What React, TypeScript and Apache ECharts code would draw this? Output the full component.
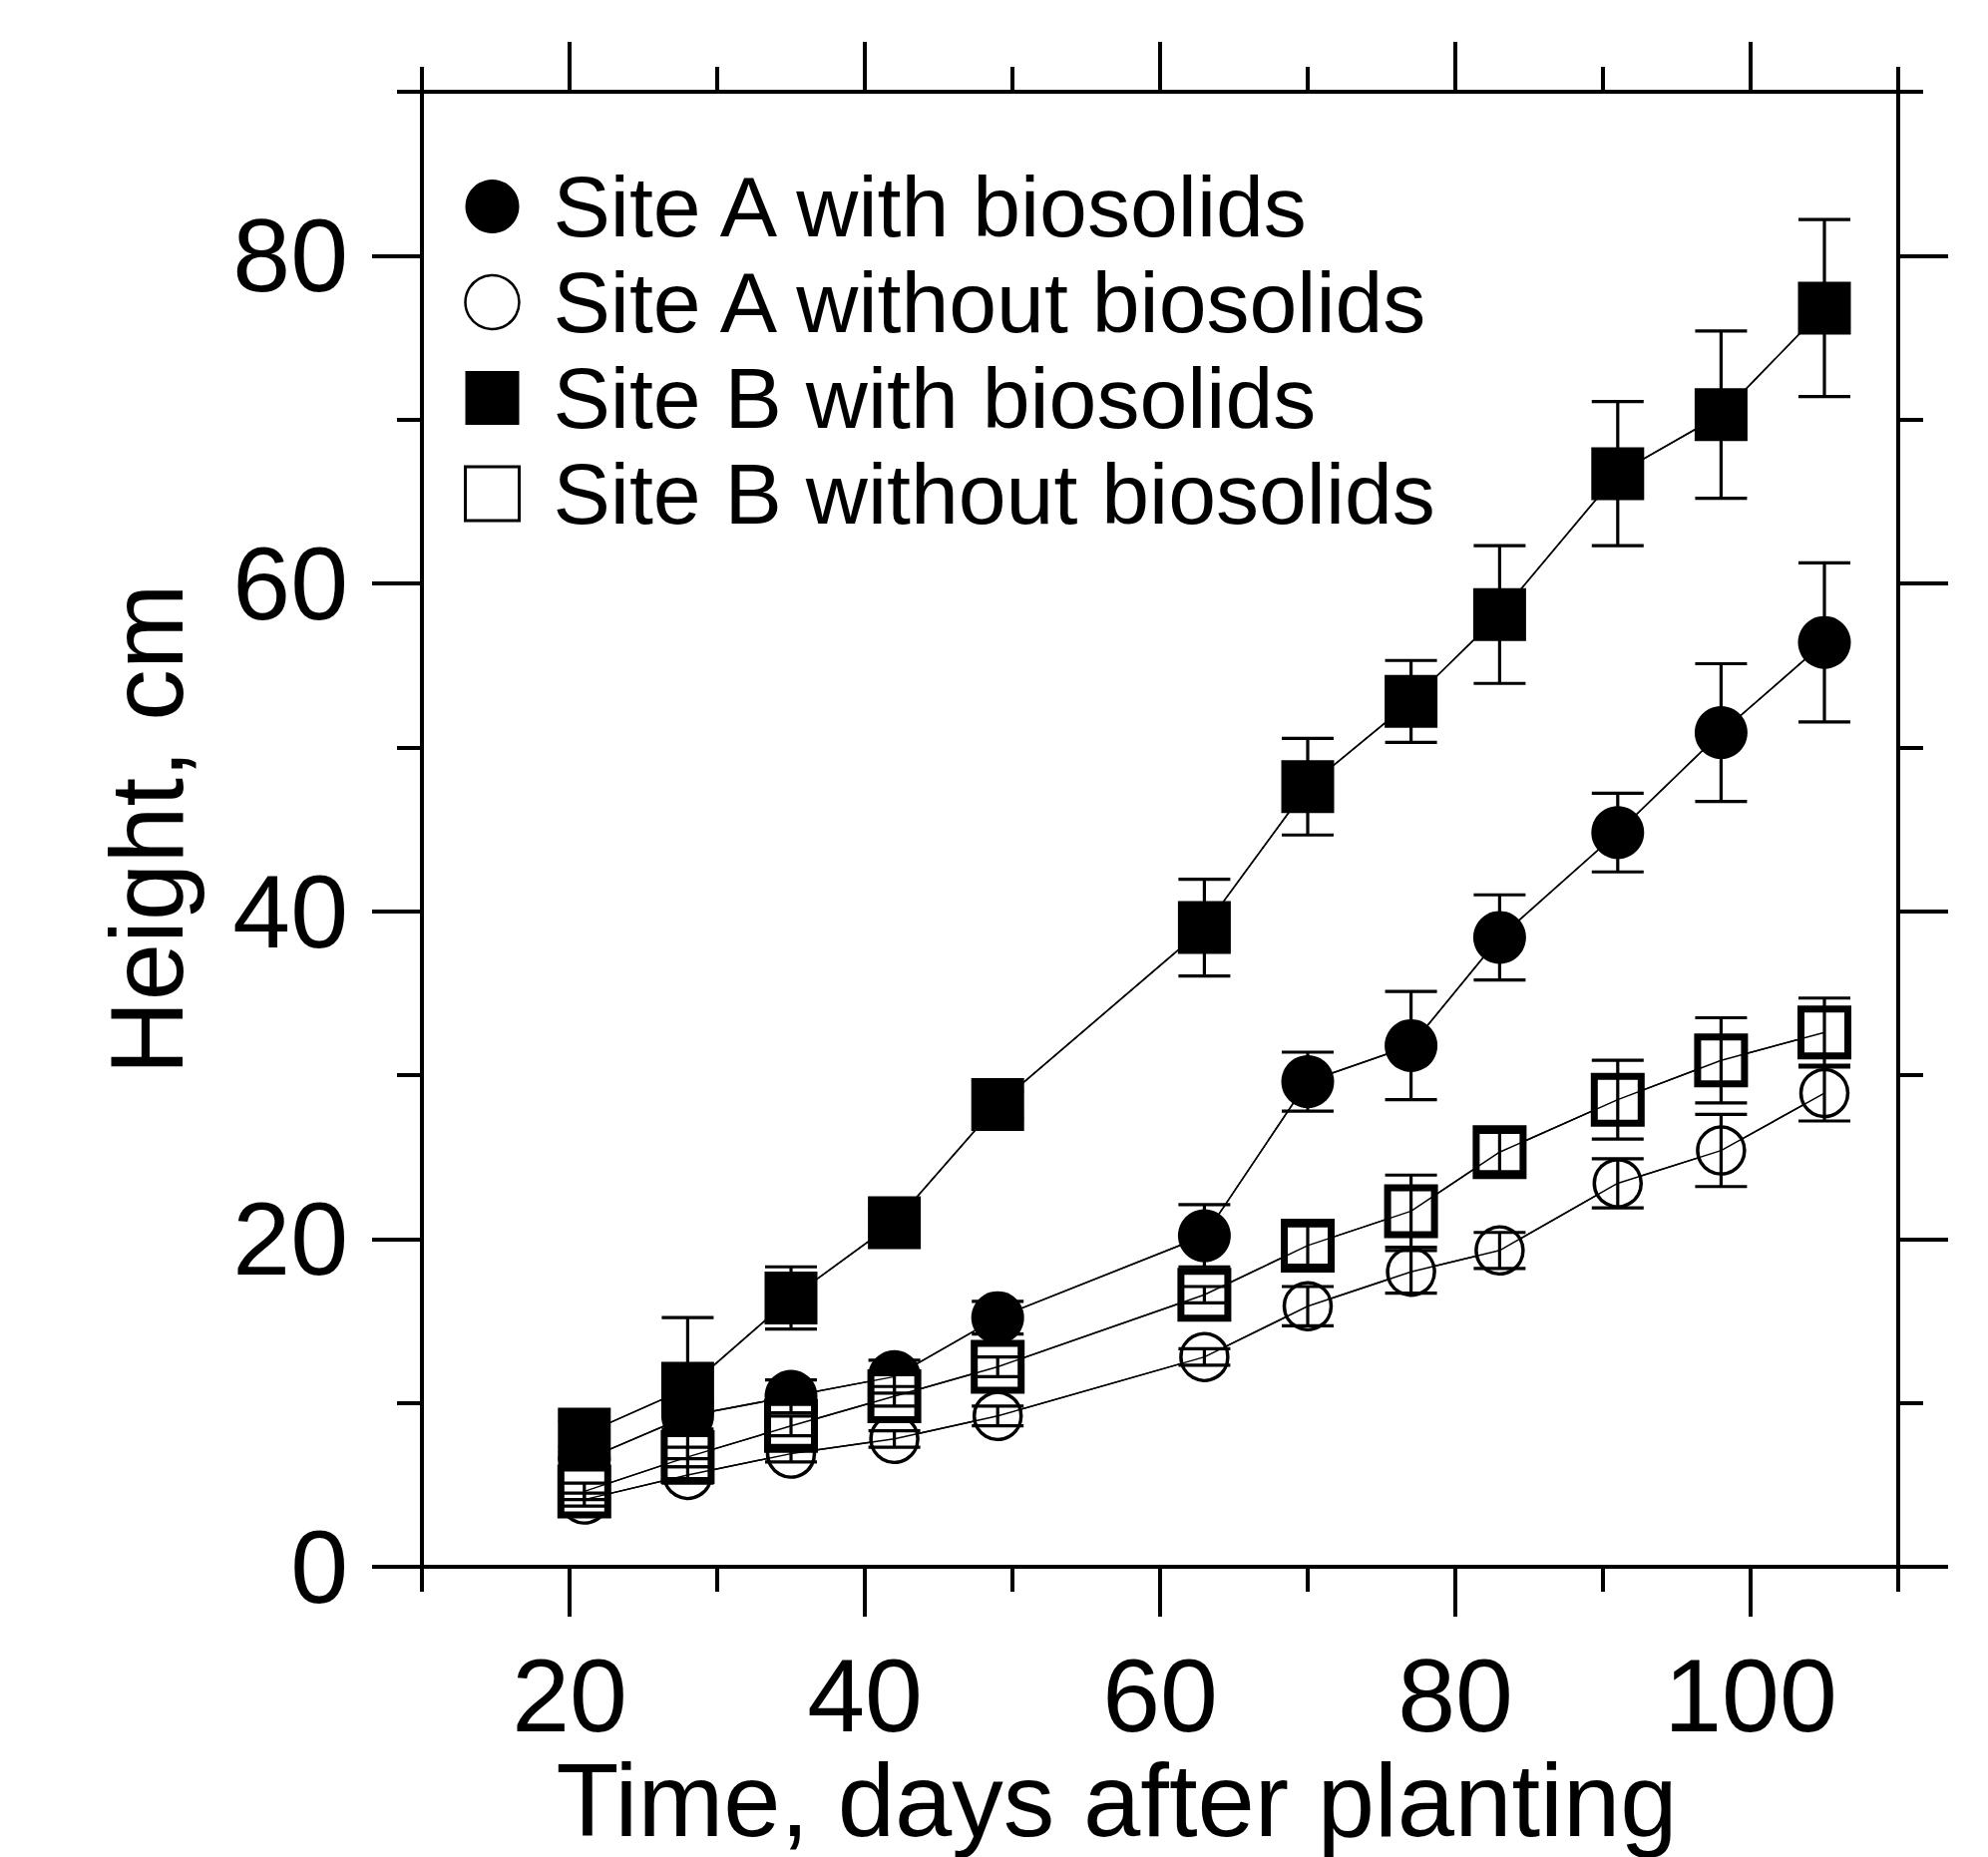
import React, { useEffect, useRef } from "react";
import * as echarts from "echarts";

// ---- data ----
const days = [21, 28, 35, 42, 49, 63, 70, 77, 83, 91, 98, 105];

const siteAWith = [6.5, 9.2, 10.4, 11.6, 15.2, 20.2, 29.6, 31.8, 38.4, 44.8, 50.9, 56.4];
const siteAWithErr = [0.5, 0.8, 1.0, 1.0, 1.0, 1.9, 1.8, 3.3, 2.6, 2.4, 4.2, 4.85];

const siteAWithout = [4.1, 5.6, 6.9, 7.8, 9.2, 12.8, 15.9, 18.0, 19.3, 23.4, 25.4, 28.9];
const siteAWithoutErr = [0.4, 0.5, 0.5, 0.5, 0.6, 0.5, 1.2, 1.3, 1.1, 1.5, 2.2, 1.7];

const siteBWith = [8.1, 10.9, 16.4, 21.0, 28.2, 39.0, 47.6, 52.8, 58.1, 66.7, 70.3, 76.8];
const siteBWithErr = [0.8, 4.3, 1.9, 0.8, 0.8, 2.95, 2.95, 2.5, 4.2, 4.4, 5.1, 5.4];

const siteBWithout = [4.6, 6.7, 8.6, 10.4, 12.2, 16.6, 19.6, 21.7, 25.3, 28.5, 30.9, 32.6];
const siteBWithoutErr = [0.5, 0.6, 0.6, 0.6, 0.6, 0.5, 1.2, 2.2, 1.2, 2.4, 2.6, 2.1];

const seriesNames = [
  "Site A with biosolids",
  "Site A without biosolids",
  "Site B with biosolids",
  "Site B without biosolids",
];

const xMajorTicks = [20, 40, 60, 80, 100];
const yMajorTicks = [0, 20, 40, 60, 80];
const xLabelStep = 20;
const yLabelStep = 20;

const FONT = '"Liberation Sans", Arial, Helvetica, sans-serif';
const BLACK = "#000";

const pairs = (vals: number[]) => days.map((d, i) => [d, vals[i]]);
const errRows = (vals: number[], errs: number[]) =>
  days.map((d, i) => [d, vals[i] - errs[i], vals[i] + errs[i]]);

const lineStyleAxis = { color: BLACK, width: 4 };

function minorAxis(kind: "x" | "y", position: string, withLabels: boolean, extra: any = {}) {
  const isX = kind === "x";
  const step = isX ? xLabelStep : yLabelStep;
  return {
    type: "value",
    position,
    min: isX ? 10 : 0,
    max: isX ? 110 : 90,
    interval: 10,
    axisLine: { show: true, onZero: false, lineStyle: lineStyleAxis },
    axisTick: { show: true, inside: false, length: 25, lineStyle: lineStyleAxis },
    axisLabel: withLabels
      ? {
          show: true,
          margin: isX ? 77 : 74,
          fontSize: 104,
          fontFamily: FONT,
          color: BLACK,
          formatter: (v: number) => (v % step === 0 ? String(v) : ""),
        }
      : { show: false },
    splitLine: { show: false },
    ...extra,
  };
}

function majorAxis(kind: "x" | "y", position: string) {
  const isX = kind === "x";
  return {
    type: "value",
    position,
    min: isX ? 10 : 0,
    max: isX ? 110 : 90,
    interval: 10,
    axisLine: { show: false, onZero: false },
    axisTick: {
      show: true,
      inside: false,
      length: 50,
      customValues: isX ? xMajorTicks : yMajorTicks,
      lineStyle: lineStyleAxis,
    },
    axisLabel: { show: false },
    splitLine: { show: false },
  };
}

function buildOption(): any {
  const markerSeries = (
    name: string,
    vals: number[],
    symbol: string,
    size: number,
    open: boolean,
    border: number
  ) => ({
    name,
    type: "line",
    data: pairs(vals),
    symbol,
    symbolSize: size,
    showSymbol: true,
    showAllSymbol: true,
    xAxisIndex: 0,
    yAxisIndex: 0,
    itemStyle: {
      color: open ? "#fff" : BLACK,
      borderColor: BLACK,
      borderWidth: border,
      opacity: 1,
    },
    lineStyle: { color: BLACK, width: 1.5 },
    emphasis: { disabled: true },
    z: 2,
  });

  const overlayLine = (vals: number[]) => ({
    type: "line",
    data: pairs(vals),
    symbol: "none",
    showSymbol: false,
    lineStyle: { color: BLACK, width: 1.5 },
    emphasis: { disabled: true },
    silent: true,
    z: 3,
  });

  const errorSeries = (vals: number[], errs: number[]) => ({
    type: "custom",
    data: errRows(vals, errs),
    encode: { x: 0, y: [1, 2] },
    silent: true,
    z: 4,
    renderItem: (params: any, api: any) => {
      const x = api.value(0);
      const lo = api.coord([x, api.value(1)]);
      const hi = api.coord([x, api.value(2)]);
      const hw = 26;
      const style = { stroke: BLACK, lineWidth: 3.2 };
      return {
        type: "group",
        children: [
          { type: "line", shape: { x1: lo[0], y1: lo[1], x2: hi[0], y2: hi[1] }, style },
          { type: "line", shape: { x1: lo[0] - hw, y1: lo[1], x2: lo[0] + hw, y2: lo[1] }, style },
          { type: "line", shape: { x1: hi[0] - hw, y1: hi[1], x2: hi[0] + hw, y2: hi[1] }, style },
        ],
      };
    },
  });

  return {
    animation: false,
    backgroundColor: "#fff",
    textStyle: { fontFamily: FONT, color: BLACK },
    grid: {
      left: 423,
      right: 90,
      top: 92,
      bottom: 291,
      containLabel: false,
      outerBoundsMode: "none",
    },
    legend: {
      show: true,
      orient: "vertical",
      left: 465,
      top: 159,
      padding: 0,
      itemGap: 0,
      itemWidth: 54,
      itemHeight: 54,
      selectedMode: false,
      textStyle: {
        fontSize: 86,
        fontFamily: FONT,
        color: BLACK,
        lineHeight: 96,
        padding: [0, 0, 0, 29],
      },
      data: [
        { name: seriesNames[0], icon: "circle", itemStyle: { color: BLACK, borderWidth: 0 } },
        {
          name: seriesNames[1],
          icon: "circle",
          itemStyle: { color: "#fff", borderColor: BLACK, borderWidth: 2.5 },
        },
        { name: seriesNames[2], icon: "rect", itemStyle: { color: BLACK, borderWidth: 0 } },
        {
          name: seriesNames[3],
          icon: "rect",
          itemStyle: { color: "#fff", borderColor: BLACK, borderWidth: 3 },
        },
      ],
    },
    xAxis: [
      minorAxis("x", "bottom", true, {
        name: "Time, days after planting",
        nameLocation: "middle",
        nameGap: 183,
        nameMoveOverlap: false,
        nameTextStyle: {
          fontSize: 103,
          fontFamily: FONT,
          color: BLACK,
          padding: [0, 87, 0, 0],
        },
      }),
      majorAxis("x", "bottom"),
      minorAxis("x", "top", false),
      majorAxis("x", "top"),
    ],
    yAxis: [
      minorAxis("y", "left", true, {
        name: "Height, cm",
        nameLocation: "middle",
        nameGap: 224,
        nameMoveOverlap: false,
        nameTextStyle: { fontSize: 103, fontFamily: FONT, color: BLACK },
      }),
      majorAxis("y", "left"),
      minorAxis("y", "right", false),
      majorAxis("y", "right"),
    ],
    series: [
      markerSeries(seriesNames[2], siteBWith, "rect", 53, false, 0),
      markerSeries(seriesNames[0], siteAWith, "circle", 53, false, 0),
      markerSeries(seriesNames[1], siteAWithout, "circle", 47, true, 3.5),
      markerSeries(seriesNames[3], siteBWithout, "rect", 47, true, 7),
      overlayLine(siteBWith),
      overlayLine(siteAWith),
      overlayLine(siteAWithout),
      overlayLine(siteBWithout),
      errorSeries(siteBWith, siteBWithErr),
      errorSeries(siteAWith, siteAWithErr),
      errorSeries(siteAWithout, siteAWithoutErr),
      errorSeries(siteBWithout, siteBWithoutErr),
    ],
  };
}

export default function App() {
  const ref = useRef<HTMLDivElement>(null);
  useEffect(() => {
    if (!ref.current) return;
    const chart = echarts.init(ref.current, null, { renderer: "svg" });
    chart.setOption(buildOption());
    return () => chart.dispose();
  }, []);
  return (
    <div
      ref={ref}
      style={{ position: "absolute", left: 0, top: 0, width: 1993, height: 1862, background: "#fff" }}
    />
  );
}
